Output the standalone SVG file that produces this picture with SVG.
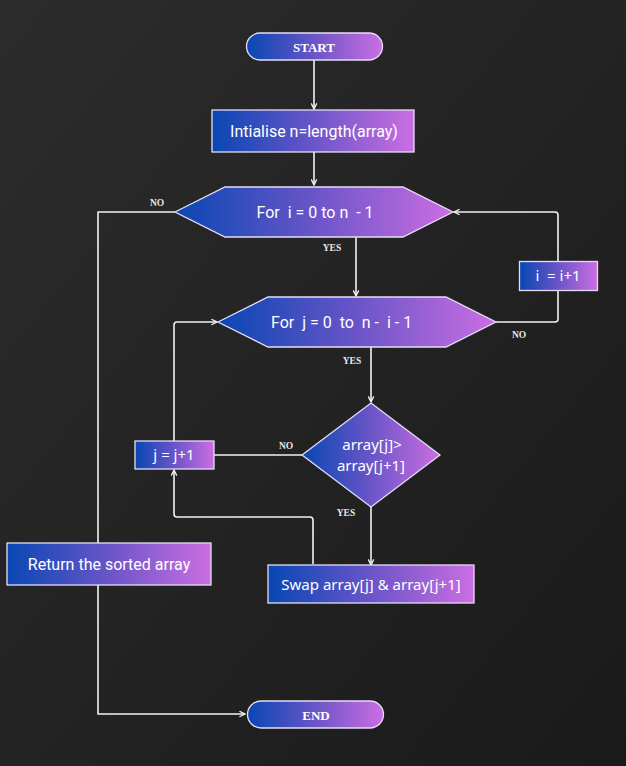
<svg xmlns="http://www.w3.org/2000/svg" width="626" height="766" viewBox="0 0 626 766">
  <defs>
    <linearGradient id="bg" x1="0" y1="0" x2="1" y2="1">
      <stop offset="0" stop-color="#2c2c2c"/>
      <stop offset="1" stop-color="#1a1a1a"/>
    </linearGradient>
    <linearGradient id="fill" x1="0" y1="0" x2="1" y2="0">
      <stop offset="0" stop-color="#0847b3"/>
      <stop offset="0.5" stop-color="#6a55c8"/>
      <stop offset="1" stop-color="#cb6ee2"/>
    </linearGradient>
    <marker id="arrow" viewBox="0 0 10 10" refX="9" refY="5" markerWidth="7" markerHeight="7" orient="auto" markerUnits="userSpaceOnUse">
      <path d="M1,1 L9,5 L1,9" fill="none" stroke="#f4f4f4" stroke-width="1.8"/>
    </marker>
    <style>
      .shape { fill: url(#fill); stroke: #e6dcf5; stroke-width: 1.3; }
      .edge { fill: none; stroke: #f2f2f2; stroke-width: 1.6; stroke-linejoin: round; }
      .term { font-family: "Liberation Serif", serif; font-weight: bold; font-size: 13px; fill: #ffffff; text-anchor: middle; }
      .lbl { font-family: "Liberation Serif", serif; font-weight: bold; font-size: 9.5px; fill: #e8e8e8; text-anchor: middle; }
      .txt { font-family: Roboto, "Liberation Sans", sans-serif; font-size: 16px; fill: #ffffff; text-anchor: middle; }
      .geo { font-family: "Noto Sans", "Open Sans", sans-serif; font-size: 15px; fill: #ffffff; text-anchor: middle; }
    </style>
  </defs>

  <rect width="626" height="766" fill="url(#bg)"/>

  <!-- connectors -->
  <g id="connectors">
    <path class="edge" d="M314,60 V109" marker-end="url(#arrow)"/>
    <path class="edge" d="M314,152 V185" marker-end="url(#arrow)"/>
    <!-- outer loop exit -->
    <path class="edge" d="M175,212 H98 V543"/>
    <path class="edge" d="M98,585 V714 H245" marker-end="url(#arrow)"/>
    <!-- outer loop body -->
    <path class="edge" d="M356,237 V296" marker-end="url(#arrow)"/>
    <!-- inner loop exit, increment i -->
    <path class="edge" d="M496,322 H555 Q558,322 558,319 V291"/>
    <path class="edge" d="M558,262 V215 Q558,212 555,212 H454" marker-end="url(#arrow)"/>
    <!-- inner loop body -->
    <path class="edge" d="M371,347 V402" marker-end="url(#arrow)"/>
    <!-- compare: no -->
    <path class="edge" d="M302,455 H214"/>
    <!-- increment j, back to inner loop -->
    <path class="edge" d="M174,441 V325 Q174,322 177,322 H217" marker-end="url(#arrow)"/>
    <!-- compare: yes -->
    <path class="edge" d="M371,507 V565" marker-end="url(#arrow)"/>
    <!-- after swap -->
    <path class="edge" d="M313,564 V520 Q313,517 310,517 H177 Q174,517 174,514 V470" marker-end="url(#arrow)"/>

    <text class="lbl" x="157" y="206">NO</text>
    <text class="lbl" x="332" y="251">YES</text>
    <text class="lbl" x="519" y="338">NO</text>
    <text class="lbl" x="352" y="364">YES</text>
    <text class="lbl" x="286" y="449">NO</text>
    <text class="lbl" x="346" y="516">YES</text>
  </g>

  <g id="start">
    <rect class="shape" x="246.5" y="33" width="136" height="27" rx="13.5"/>
    <text class="term" x="314" y="51.5">START</text>
  </g>

  <g id="init">
    <rect class="shape" x="212" y="110" width="202" height="42"/>
    <text class="txt" x="314" y="137">Intialise n=length(array)</text>
  </g>

  <g id="loop-i">
    <polygon class="shape" points="175,212 225,187 403,187 453,212 403,237 225,237"/>
    <text class="txt" x="315" y="218" font-size="15.5" xml:space="preserve">For  i = 0 to n  - 1</text>
  </g>

  <g id="inc-i">
    <rect class="shape" x="519.5" y="261.5" width="78" height="29"/>
    <text class="geo" x="558" y="281" font-size="13" xml:space="preserve">i  = i+1</text>
  </g>

  <g id="loop-j">
    <polygon class="shape" points="218,322 268,297 446,297 496,322 446,347 268,347"/>
    <text class="txt" x="271" y="328" font-size="15.5" style="text-anchor:start" xml:space="preserve">For  j = 0  to  n -  i - 1</text>
  </g>

  <g id="compare">
    <polygon class="shape" points="371,403 440,455 371,507 302,455"/>
    <text class="geo" x="372" y="450">array[j]&gt;</text>
    <text class="geo" x="371" y="471">array[j+1]</text>
  </g>

  <g id="inc-j">
    <rect class="shape" x="135" y="441" width="79" height="28"/>
    <text class="geo" x="174" y="460" font-size="13.5">j = j+1</text>
  </g>

  <g id="swap">
    <rect class="shape" x="268" y="565" width="206" height="38"/>
    <text class="geo" x="371" y="589.5" font-size="16">Swap array[j] &amp; array[j+1]</text>
  </g>

  <g id="return">
    <rect class="shape" x="7" y="543" width="204" height="42"/>
    <text class="txt" x="109" y="569.5">Return the sorted array</text>
  </g>

  <g id="end">
    <rect class="shape" x="247.5" y="701" width="136" height="27" rx="13.5"/>
    <text class="term" x="316" y="719.5">END</text>
  </g>
</svg>
